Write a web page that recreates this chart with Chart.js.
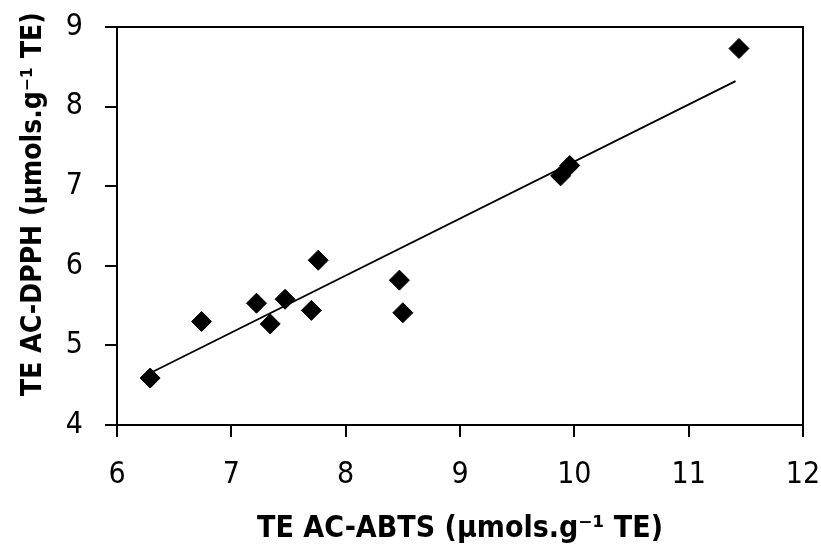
<!DOCTYPE html>
<html>
<head>
<meta charset="utf-8">
<script src="https://cdn.jsdelivr.net/npm/chart.js@4.4.1/dist/chart.umd.min.js"></script>
<style>
    body { margin: 0; background: #fff; }
    #wrap { width: 821px; height: 545px; position: relative; }
</style>
</head>
<body>
<div id="wrap"><canvas id="myChart"></canvas></div>
<script>
// Data
const abts = [6.29, 6.74, 7.22, 7.34, 7.47, 7.70, 7.76, 8.47, 8.50, 9.88, 9.96, 11.44];
const dpph = [4.59, 5.30, 5.53, 5.27, 5.58, 5.44, 6.07, 5.82, 5.41, 7.13, 7.26, 8.73];

// Trend line end points
const trendX = [6.30, 11.41];
const trendY = [4.66, 8.32];

// Axis ranges
const xMin = 6, xMax = 12, xStep = 1;
const yMin = 4, yMax = 9, yStep = 1;

const xTitle = 'TE AC-ABTS (µmols.g⁻¹ TE)';
// leading spaces push the visible text up a little, as in the picture
const yTitle = '     TE AC-DPPH (µmols.g⁻¹ TE)';

const tickFont = { family: "'DejaVu Sans Condensed', sans-serif", size: 30 };
const xTitleFont = { family: "'DejaVu Sans Condensed', sans-serif", size: 30, weight: 'bold', lineHeight: 1 };
const yTitleFont = { family: "'DejaVu Sans Condensed', sans-serif", size: 28, weight: 'bold', lineHeight: 1 };

// Frame round the plot area
const frame = {
    id: 'frame',
    afterDraw(chart) {
        const a = chart.chartArea;
        const c = chart.ctx;
        c.save();
        c.strokeStyle = '#000';
        c.lineWidth = 2;
        c.strokeRect(a.left, a.top, a.right - a.left, a.bottom - a.top);
        c.restore();
    }
};

function noPad(scale) {
    scale.paddingLeft = 0;
    scale.paddingRight = 0;
    scale.paddingTop = 0;
    scale.paddingBottom = 0;
}

const ctx = document.getElementById('myChart').getContext('2d');

const myChart = new Chart(ctx, {
    type: 'scatter',
    data: {
        datasets: [{
            data: abts.map((x, i) => ({ x: x, y: dpph[i] })),
            pointStyle: 'rectRot',
            pointRadius: 10,
            backgroundColor: '#000',
            borderColor: '#000',
            borderWidth: 1
        }, {
            type: 'line',
            data: trendX.map((x, i) => ({ x: x, y: trendY[i] })),
            borderColor: '#000',
            borderWidth: 1.8,
            pointRadius: 0,
            fill: false
        }]
    },
    options: {
        responsive: true,
        maintainAspectRatio: false,
        animation: false,
        layout: { padding: { top: 27, right: 18, left: 0, bottom: 0 } },
        plugins: {
            legend: { display: false },
            tooltip: { enabled: false }
        },
        scales: {
            x: {
                type: 'linear',
                min: xMin,
                max: xMax,
                afterFit(scale) { scale.height = 120; noPad(scale); },
                ticks: { stepSize: xStep, color: '#000', font: tickFont, padding: 20, maxRotation: 0 },
                grid: { drawOnChartArea: false, color: '#000', lineWidth: 2, tickLength: 12 },
                border: { display: false },
                title: { display: true, text: xTitle, color: '#000', font: xTitleFont, padding: { top: 0, bottom: 1 } }
            },
            y: {
                type: 'linear',
                min: yMin,
                max: yMax,
                afterFit(scale) { scale.width = 117; noPad(scale); },
                ticks: { stepSize: yStep, color: '#000', font: tickFont, padding: 22 },
                grid: { drawOnChartArea: false, color: '#000', lineWidth: 2, tickLength: 12 },
                border: { display: false },
                title: { display: true, text: yTitle, color: '#000', font: yTitleFont, padding: { top: 20, bottom: 0 } }
            }
        }
    },
    plugins: [frame]
});
</script>
</body>
</html>
